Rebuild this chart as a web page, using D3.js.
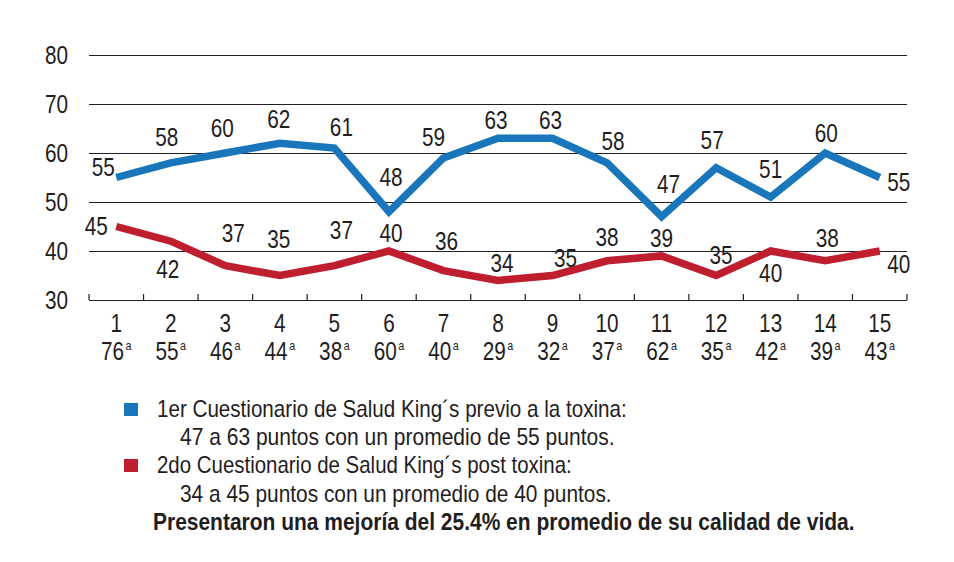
<!DOCTYPE html>
<html><head><meta charset="utf-8">
<script src="https://cdn.jsdelivr.net/npm/d3@7"></script>
<style>
html,body{margin:0;padding:0;background:#fff;}
svg text{font-family:"Liberation Sans","Arial",sans-serif;fill:#1f1d1e;}
</style></head>
<body><svg id="chart" width="954" height="562"></svg>
<script>
const patients = ["1","2","3","4","5","6","7","8","9","10","11","12","13","14","15"];
const ages = ["76","55","46","44","38","60","40","29","32","37","62","35","42","39","43"];
const ageSuffix = "a";
const before = [55,58,60,62,61,48,59,63,63,58,47,57,51,60,55];
const after  = [45,42,37,35,37,40,36,34,35,38,39,35,40,38,40];
const yTicks = [30,40,50,60,70,80];
const seriesNames = ["1er Cuestionario de Salud King´s previo a la toxina:",
                     "2do Cuestionario de Salud King´s post toxina:"];
const seriesNotes = ["47 a 63 puntos con un promedio de 55 puntos.",
                     "34 a 45 puntos con un promedio de 40 puntos."];
const conclusion = "Presentaron una mejoría del 25.4% en promedio de su calidad de vida.";

const colors = ["#1a76bb", "#be1e2d"];
// label placement offsets (px) relative to each point
const beforeOffsets = [[-13,-10],[-4,-26],[-3,-25],[-1,-24],[7,-21],[2,-35],[-10,-21],[-2,-18],[-2,-18],[6,-22],[7,-33],[-4,-28],[0,-28],[1,-20],[19,5]];
const afterOffsets  = [[-20,0],[-3,28],[8,-33],[-1,-36],[7,-36],[2,-18],[3,-30],[4,-17],[13,-17],[0,-24],[0,-18],[5,-20],[0,22],[2,-23],[19,13]];

const svg = d3.select("#chart");
const L = 89, R = 907, T = 55, B = 300;
const FS = 25, CONDENSE = 0.83;
const x = d3.scaleBand().domain(patients).range([L, R]).padding(0);
const y = d3.scaleLinear().domain([30, 80]).range([B, T]);

// horizontally condense text around its anchor x (font is a condensed grotesque in the original)
function condense(sel, k) {
  sel.each(function () {
    const ax = +(this.getAttribute("x") || 0);
    this.setAttribute("transform", `translate(${ax},0) scale(${k},1) translate(${-ax},0)`);
  });
}
function fitWidth(sel, target) {
  sel.each(function () {
    const w = this.getComputedTextLength();
    const ax = +(this.getAttribute("x") || 0);
    const k = target / w;
    this.setAttribute("transform", `translate(${ax},0) scale(${k},1) translate(${-ax},0)`);
  });
}

// gridlines + y labels
const yAxis = svg.append("g").attr("transform", `translate(${L},0)`)
  .call(d3.axisLeft(y).tickValues(yTicks).tickSize(-(R - L)).tickPadding(21).tickFormat(d3.format("d")));
yAxis.select(".domain").remove();
yAxis.selectAll(".tick line").attr("stroke", "#231f20").attr("stroke-width", 1.2);
yAxis.selectAll(".tick text").attr("font-size", FS).attr("fill", "#1f1d1e")
  .style("font-family", '"Liberation Sans",Arial,sans-serif');
condense(yAxis.selectAll(".tick text"), CONDENSE);

// x tick marks at band boundaries
const bounds = patients.map(p => x(p)).concat([R]);
svg.append("g").selectAll("line").data(bounds).join("line")
  .attr("x1", d => d).attr("x2", d => d).attr("y1", B - 6).attr("y2", B)
  .attr("stroke", "#231f20").attr("stroke-width", 1.2);

// x labels
const cx = p => x(p) + x.bandwidth() / 2;
const pT = svg.append("g").selectAll("text").data(patients).join("text")
  .attr("x", d => cx(d)).attr("y", 332).attr("text-anchor", "middle").attr("font-size", FS)
  .text(d => d);
condense(pT, CONDENSE);

// age labels with superscript "a"
const ageG = svg.append("g");
patients.forEach((p, i) => {
  const num = ageG.append("text").attr("y", 360).attr("font-size", FS).text(ages[i]);
  const sup = ageG.append("text").attr("y", 350).attr("font-size", 13).text(ageSuffix);
  const w = num.node().getComputedTextLength() * CONDENSE;
  const s = sup.node().getComputedTextLength() * CONDENSE;
  const x0 = cx(p) - (w + s + 1.5) / 2;
  num.attr("x", x0);
  sup.attr("x", x0 + w + 1.5);
  condense(num, CONDENSE);
  condense(sup, CONDENSE);
});

// lines
const line = d3.line().x((d, i) => cx(patients[i])).y(d => y(d));
[before, after].forEach((s, k) => {
  svg.append("path").datum(s).attr("d", line).attr("fill", "none")
    .attr("stroke", colors[k]).attr("stroke-width", 7.5).attr("stroke-linejoin", "miter");
});

// value labels
[[before, beforeOffsets], [after, afterOffsets]].forEach(([s, off]) => {
  const t = svg.append("g").selectAll("text").data(s).join("text")
    .attr("x", (d, i) => cx(patients[i]) + off[i][0])
    .attr("y", (d, i) => y(d) + off[i][1] + 9)
    .attr("text-anchor", "middle").attr("font-size", FS).text(d => d);
  condense(t, CONDENSE);
});

// legend
const lg = svg.append("g");
const rows = [
  {t: seriesNames[0], x: 157, y: 417, w: 470, sw: colors[0]},
  {t: seriesNotes[0], x: 180, y: 445, w: 435},
  {t: seriesNames[1], x: 157, y: 473, w: 415, sw: colors[1]},
  {t: seriesNotes[1], x: 180, y: 502, w: 432},
];
rows.forEach(r => {
  const t = lg.append("text").attr("x", r.x).attr("y", r.y).attr("font-size", 23).text(r.t);
  fitWidth(t, r.w);
  if (r.sw) lg.append("rect").attr("x", 124).attr("y", r.y - 14).attr("width", 14).attr("height", 13).attr("fill", r.sw);
});
const concl = lg.append("text").attr("x", 153).attr("y", 530).attr("font-size", 23).attr("font-weight", "bold")
  .text(conclusion);
fitWidth(concl, 702);
</script></body></html>
